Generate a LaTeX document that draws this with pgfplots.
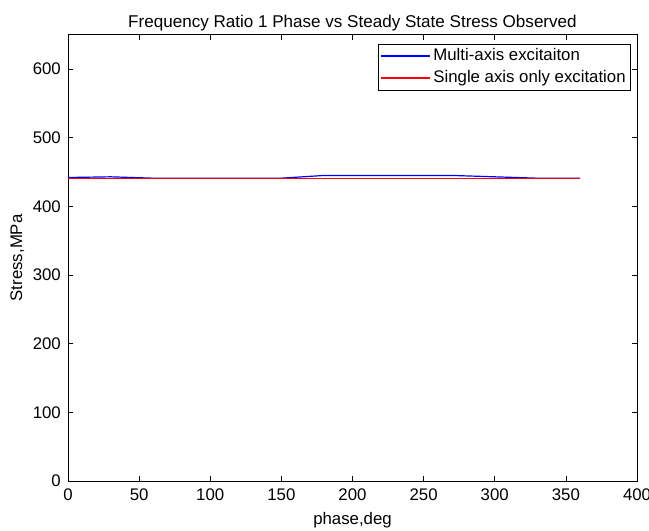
\documentclass[border=0pt]{standalone}
\usepackage{pgfplots}
\pgfplotsset{compat=1.18}
\usepackage{fontspec}
\setmainfont{Liberation Sans}
\begin{document}
\fontsize{12.6}{15}\selectfont
\begin{tikzpicture}
\useasboundingbox (-51pt,-37pt) rectangle (436pt,361pt);
\begin{axis}[
  at={(0,0)}, anchor=origin,
  scale only axis,
  width=427pt, height=335pt,
  xmin=0, xmax=400, ymin=0, ymax=650,
  xtick={0,50,...,400}, ytick={0,100,...,600},
  tick align=inside, major tick length=4pt,
  tick style={black, line width=0.5pt},
  axis line style={line width=0.6pt},
  /pgf/number format/assume math mode=true,
  ticklabel style={font=\fontsize{12.6}{15}\selectfont},
  xticklabel style={yshift=-1.5pt},
  yticklabel style={xshift=-1pt},
  title={Frequency Ratio 1 Phase vs Steady State Stress Observed},
  title style={font=\fontsize{12.8}{15.3}\selectfont, at={(axis description cs:0.5,1)}, anchor=center, yshift=3pt},
  xlabel={phase,deg}, ylabel={Stress,MPa},
  label style={font=\fontsize{12.6}{15}\selectfont},
  xlabel style={at={(axis description cs:0.5,0)}, anchor=center, yshift=-29pt},
  ylabel style={at={(axis description cs:0,0.5)}, anchor=center, yshift=38pt},
  legend style={at={(rel axis cs:0.989,0.98)}, anchor=north east,
    font=\fontsize{12.6}{15}\selectfont, inner sep=1.5pt, row sep=1.5pt,
    legend cell align=left, line width=0.6pt},
]
\addplot[color=blue, line width=0.9pt,
  legend image code/.code={\draw[draw=blue, line width=1pt] (0pt,0pt) -- (37pt,0pt);}] coordinates {
(0,442) (30,443) (60,441) (90,441) (120,441) (150,441) (180,445) (210,445) (240,445) (270,445) (300,443) (330,441) (360,441)};
\addlegendentry{Multi-axis excitaiton}
\addplot[color=red, line width=0.9pt,
  legend image code/.code={\draw[draw=red, line width=1pt] (0pt,0pt) -- (37pt,0pt);}] coordinates {
(0,440) (30,440) (60,440) (90,440) (120,440) (150,440) (180,440) (210,440) (240,440) (270,440) (300,440) (330,440) (360,440)};
\addlegendentry{Single axis only excitation}
\end{axis}
\end{tikzpicture}
\end{document}
